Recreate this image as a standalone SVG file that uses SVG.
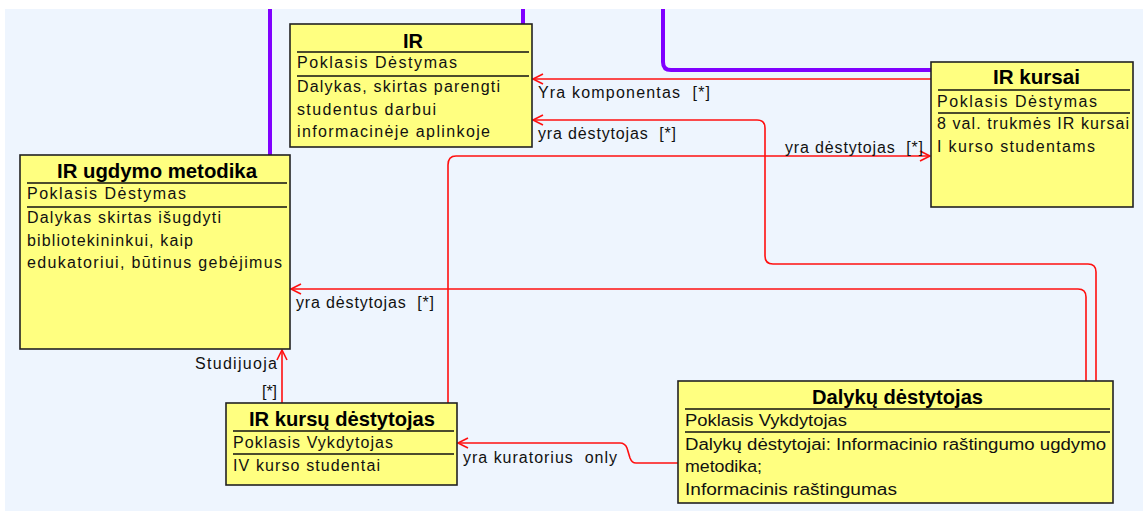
<svg xmlns="http://www.w3.org/2000/svg" width="1143" height="511" viewBox="0 0 1143 511">
<style>
.box{fill:#ffff80;stroke:#222;stroke-width:1.6}
.rule{stroke:#111;stroke-width:1.3}
.t{font-family:"Liberation Sans",Arial,sans-serif;font-size:16px;fill:#111;white-space:pre}
.h{font-family:"Liberation Sans",Arial,sans-serif;font-size:21px;font-weight:bold;fill:#000}
.lbl{font-family:"Liberation Sans",Arial,sans-serif;font-size:16px;fill:#111;white-space:pre}
.rel{fill:none;stroke:#ff1010;stroke-width:1.6}
.gen{fill:none;stroke:#8000ff;stroke-width:4}
</style>
<defs>
<marker id="arr" markerUnits="userSpaceOnUse" markerWidth="14" markerHeight="14" viewBox="-12 -7 14 14" refX="0" refY="0" orient="auto">
<path d="M-10,-5 L0,0 L-10,5" fill="none" stroke="#ff1010" stroke-width="1.6"/>
</marker>
</defs>
<rect x="0" y="0" width="1143" height="511" fill="#ffffff"/>
<rect x="5" y="9" width="1138" height="502" fill="#eef5fe"/>

<g id="connectors">
<path class="gen" d="M270,9 V155"/>
<path class="gen" d="M523,9 V24"/>
<path class="gen" d="M663,9 V62 Q663,70 671,70 H931"/>
<path class="rel" marker-end="url(#arr)" d="M931,79 H533"/>
<path class="rel" marker-end="url(#arr)" d="M1096,381 V272 Q1096,264 1088,264 H773 Q765,264 765,256 V128 Q765,120 757,120 H533"/>
<path class="rel" marker-end="url(#arr)" d="M1086,381 V297 Q1086,289 1078,289 H291"/>
<path class="rel" marker-end="url(#arr)" d="M448,403 V165 Q448,156 456,156 H930"/>
<path class="rel" marker-end="url(#arr)" d="M282,403 V350"/>
<path class="rel" marker-end="url(#arr)" d="M678,463 H636 Q632,463 630,458 L627,448 Q625,443 620,443 H458"/>
<text class="lbl" x="538" y="98" textLength="172" lengthAdjust="spacing">Yra komponentas  [*]</text>
<text class="lbl" x="538" y="139" textLength="138" lengthAdjust="spacing">yra dėstytojas  [*]</text>
<text class="lbl" x="785" y="153" textLength="138" lengthAdjust="spacing">yra dėstytojas  [*]</text>
<text class="lbl" x="296" y="308" textLength="138" lengthAdjust="spacing">yra dėstytojas  [*]</text>
<text class="lbl" x="195" y="369" textLength="82" lengthAdjust="spacing">Studijuoja</text>
<text class="lbl" x="262" y="397" textLength="15" lengthAdjust="spacing">[*]</text>
<text class="lbl" x="463" y="463" textLength="154" lengthAdjust="spacing">yra kuratorius  only</text>
</g>

<g id="node-ir">
<rect class="box" x="290" y="24" width="242" height="123"/>
<text class="h" x="403" y="48" textLength="20" lengthAdjust="spacingAndGlyphs">IR</text>
<line class="rule" x1="297" y1="52" x2="529" y2="52"/>
<text class="t" x="297" y="68" textLength="160" lengthAdjust="spacing">Poklasis Dėstymas</text>
<line class="rule" x1="297" y1="76" x2="529" y2="76"/>
<text class="t" x="297" y="92" textLength="203" lengthAdjust="spacing">Dalykas, skirtas parengti</text>
<text class="t" x="297" y="115" textLength="139" lengthAdjust="spacing">studentus darbui</text>
<text class="t" x="297" y="137" textLength="193" lengthAdjust="spacing">informacinėje aplinkoje</text>
</g>

<g id="node-ir-kursai">
<rect class="box" x="931" y="62" width="202" height="145"/>
<text class="h" x="993" y="84" textLength="87" lengthAdjust="spacingAndGlyphs">IR kursai</text>
<line class="rule" x1="938" y1="90" x2="1130" y2="90"/>
<text class="t" x="937" y="107" textLength="160" lengthAdjust="spacing">Poklasis Dėstymas</text>
<line class="rule" x1="938" y1="113" x2="1130" y2="113"/>
<text class="t" x="937" y="129" textLength="192" lengthAdjust="spacing">8 val. trukmės IR kursai</text>
<text class="t" x="937" y="152" textLength="158" lengthAdjust="spacing">I kurso studentams</text>
</g>

<g id="node-ir-ugdymo-metodika">
<rect class="box" x="20" y="155" width="270" height="194"/>
<text class="h" x="57" y="178" textLength="200" lengthAdjust="spacingAndGlyphs">IR ugdymo metodika</text>
<line class="rule" x1="27" y1="183" x2="287" y2="183"/>
<text class="t" x="27" y="199" textLength="159" lengthAdjust="spacing">Poklasis Dėstymas</text>
<line class="rule" x1="27" y1="207" x2="287" y2="207"/>
<text class="t" x="27" y="223" textLength="194" lengthAdjust="spacing">Dalykas skirtas išugdyti</text>
<text class="t" x="27" y="246" textLength="166" lengthAdjust="spacing">bibliotekininkui, kaip</text>
<text class="t" x="27" y="268" textLength="255" lengthAdjust="spacing">edukatoriui, būtinus gebėjimus</text>
</g>

<g id="node-ir-kursu-destytojas">
<rect class="box" x="226" y="403" width="231" height="82"/>
<text class="h" x="249" y="426" textLength="186" lengthAdjust="spacingAndGlyphs">IR kursų dėstytojas</text>
<line class="rule" x1="233" y1="431" x2="454" y2="431"/>
<text class="t" x="233" y="448" textLength="160" lengthAdjust="spacing">Poklasis Vykdytojas</text>
<line class="rule" x1="233" y1="454" x2="454" y2="454"/>
<text class="t" x="233" y="471" textLength="147" lengthAdjust="spacing">IV kurso studentai</text>
</g>

<g id="node-dalyku-destytojas">
<rect class="box" x="678" y="381" width="435" height="122"/>
<text class="h" x="812" y="404" textLength="171" lengthAdjust="spacingAndGlyphs">Dalykų dėstytojas</text>
<line class="rule" x1="685" y1="409" x2="1110" y2="409"/>
<text class="t" x="685" y="426" textLength="162" lengthAdjust="spacingAndGlyphs">Poklasis Vykdytojas</text>
<line class="rule" x1="685" y1="432" x2="1110" y2="432"/>
<text class="t" x="685" y="450" textLength="421" lengthAdjust="spacingAndGlyphs">Dalykų dėstytojai: Informacinio raštingumo ugdymo</text>
<text class="t" x="685" y="472" textLength="77" lengthAdjust="spacingAndGlyphs">metodika;</text>
<text class="t" x="685" y="495" textLength="212" lengthAdjust="spacingAndGlyphs">Informacinis raštingumas</text>
</g>
</svg>
